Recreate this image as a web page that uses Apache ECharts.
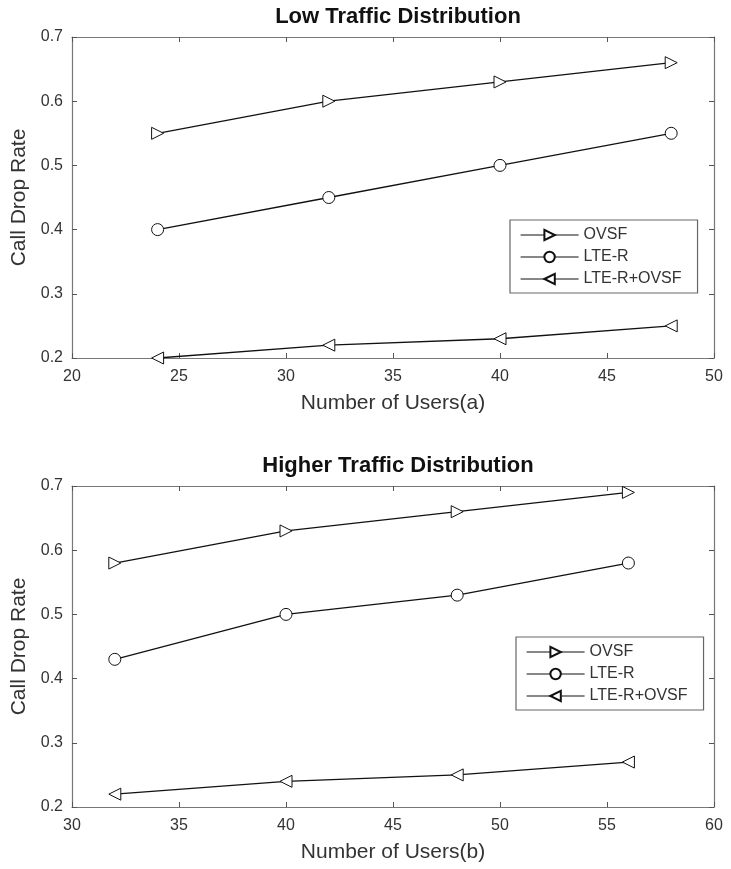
<!DOCTYPE html>
<html><head><meta charset="utf-8">
<script src="https://cdn.jsdelivr.net/npm/echarts@6/dist/echarts.min.js"></script>
<style>html,body{margin:0;padding:0;background:#fff}#c{width:731px;height:869px}</style>
</head><body><div id="c"></div>
<script>
var seriesNames = ['OVSF', 'LTE-R', 'LTE-R+OVSF'];
var usersA = [24, 32, 40, 48];
var usersB = [32, 40, 48, 56];
var lowOVSF = [0.55, 0.60, 0.63, 0.66];
var lowLTER = [0.40, 0.45, 0.50, 0.55];
var lowBoth = [0.20, 0.22, 0.23, 0.25];
var highOVSF = [0.58, 0.63, 0.66, 0.69];
var highLTER = [0.43, 0.50, 0.53, 0.58];
var highBoth = [0.22, 0.24, 0.25, 0.27];
var titles = ['Low Traffic Distribution', 'Higher Traffic Distribution'];
var xNames = ['Number of Users(a)', 'Number of Users(b)'];
var yName = 'Call Drop Rate';

function pairs(xs, ys){ return xs.map(function(x,i){return [x, ys[i]];}); }
var FONT = 'Liberation Sans';
var symbols = [['triangle', -90], ['circle', 0], ['triangle', 90]];

function mk(name, idx, xs, ys, gi){
  return {
    name: name, type: 'line', xAxisIndex: gi*2, yAxisIndex: gi*2,
    data: pairs(xs, ys),
    symbol: symbols[idx][0], symbolRotate: symbols[idx][1], symbolSize: 12,
    lineStyle: {color: '#111', width: 1.3},
    itemStyle: {color: '#fff', borderColor: '#111', borderWidth: 1},
    emphasis: {disabled: true}, animation: false
  };
}

var tops = [37, 486];
var H = 321;
var grids = tops.map(function(t){ return {left: 72, right: 17, top: t, height: H}; });
var xr = [[20, 50], [30, 60]];
var xAxes = [], yAxes = [];
var axisLine = {show: true, lineStyle: {color: '#777', width: 1.2}};
var tick = {inside: true, length: 5, lineStyle: {color: '#555'}};
for (var g = 0; g < 2; g++) {
  xAxes.push({type: 'value', gridIndex: g, min: xr[g][0], max: xr[g][1], interval: 5,
    name: xNames[g], nameLocation: 'middle', nameGap: 35,
    nameTextStyle: {fontFamily: FONT, fontSize: 21, color: '#333'},
    axisLine: axisLine, axisTick: tick,
    axisLabel: {fontFamily: FONT, fontSize: 16, color: '#333', margin: 11},
    splitLine: {show: false}});
  xAxes.push({type: 'value', gridIndex: g, position: 'top', min: xr[g][0], max: xr[g][1], interval: 5,
    axisLine: axisLine, axisTick: tick,
    axisLabel: {show: false}, splitLine: {show: false}});
  yAxes.push({type: 'value', gridIndex: g, min: 0.2, max: 0.7, interval: 0.1,
    name: yName, nameLocation: 'middle', nameGap: 38,
    nameTextStyle: {fontFamily: FONT, fontSize: 21, color: '#333'},
    axisLine: axisLine, axisTick: tick,
    axisLabel: {fontFamily: FONT, fontSize: 16, color: '#333', margin: 9, formatter: function(v){return v.toFixed(1);}},
    splitLine: {show: false}});
  yAxes.push({type: 'value', gridIndex: g, position: 'right', min: 0.2, max: 0.7, interval: 0.1,
    axisLine: axisLine, axisTick: tick,
    axisLabel: {show: false}, splitLine: {show: false}});
}

var series = [
  mk(seriesNames[0], 0, usersA, lowOVSF, 0),
  mk(seriesNames[1], 1, usersA, lowLTER, 0),
  mk(seriesNames[2], 2, usersA, lowBoth, 0),
  mk(seriesNames[0], 0, usersB, highOVSF, 1),
  mk(seriesNames[1], 1, usersB, highLTER, 1),
  mk(seriesNames[2], 2, usersB, highBoth, 1)
];

function legend(left, top){
  return {orient: 'vertical', left: left, top: top, data: seriesNames,
    itemWidth: 58, itemHeight: 13, itemGap: 6, padding: [7, 16, 6, 10],
    borderColor: '#666', borderWidth: 1.2, backgroundColor: '#fff',
    selectedMode: false,
    lineStyle: {width: 1.2, color: '#111'},
    textStyle: {fontFamily: FONT, fontSize: 16, color: '#333'}};
}

var chart = echarts.init(document.getElementById('c'));
chart.setOption({
  backgroundColor: '#fff',
  animation: false,
  title: tops.map(function(t, i){
    return {text: titles[i], left: 393, top: t - 36, textAlign: 'center',
      textStyle: {fontFamily: FONT, fontSize: 22, fontWeight: 'bold', color: '#111'}};
  }),
  legend: [legend(510, 220), legend(516, 637)],
  grid: grids, xAxis: xAxes, yAxis: yAxes, series: series
});
</script></body></html>
